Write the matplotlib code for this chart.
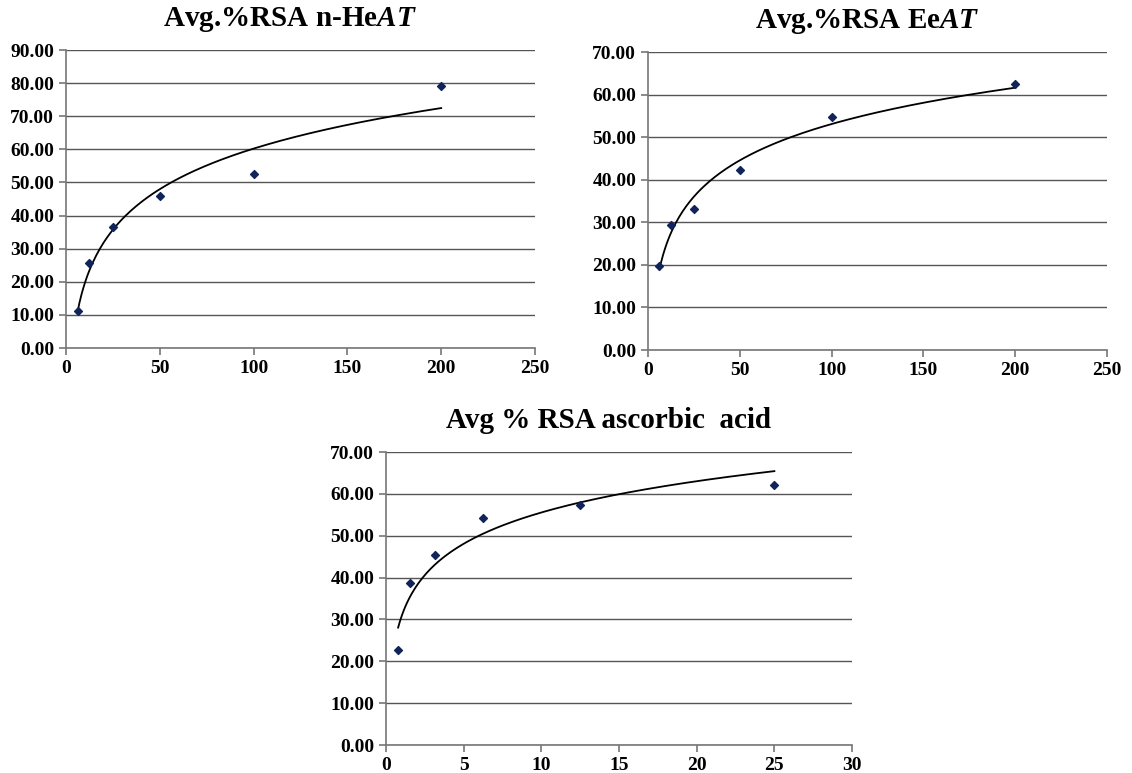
import numpy as np
import matplotlib
matplotlib.use('Agg')
import matplotlib.pyplot as plt

plt.rcParams['font.family'] = 'Liberation Serif'
plt.rcParams['font.weight'] = 'bold'
plt.rcParams['mathtext.fontset'] = 'custom'
plt.rcParams['mathtext.it'] = 'Liberation Serif:bold:italic'
plt.rcParams['mathtext.rm'] = 'Liberation Serif:bold'

# Data
conc_extract = [6.25, 12.5, 25, 50, 100, 200]
rsa_heat = [11.3, 25.8, 36.4, 45.9, 52.7, 79.0]
rsa_eeat = [19.7, 29.4, 33.2, 42.2, 54.8, 62.4]

conc_ascorbic = [0.78, 1.56, 3.125, 6.25, 12.5, 25]
rsa_ascorbic = [22.8, 38.7, 45.3, 54.2, 57.3, 62.2]

titles = [r'Avg.%RSA n-He$\mathit{AT}$', r'Avg.%RSA Ee$\mathit{AT}$', 'Avg % RSA ascorbic  acid']

fig = plt.figure(figsize=(11.32, 7.73), dpi=100)
ax1 = fig.add_axes([0.0583, 0.5498, 0.4143, 0.3855])
ax2 = fig.add_axes([0.5724, 0.5472, 0.4055, 0.3855])
ax3 = fig.add_axes([0.341, 0.0362, 0.4117, 0.379])


def draw(ax, x, y, title, xmax, xstep, ymax):
    x = np.array(x)
    y = np.array(y)
    # logarithmic trendline, like Excel
    a, b = np.polyfit(np.log(x), y, 1)
    xs = np.linspace(x.min(), x.max(), 200)
    ax.plot(xs, a * np.log(xs) + b, color='black', lw=1.3, zorder=3)
    ax.scatter(x, y, marker='D', s=16, color='#10245a', zorder=4)
    ax.set_xlim(0, xmax)
    ax.set_ylim(0, ymax)
    ax.set_xticks(np.arange(0, xmax + 0.1, xstep))
    ax.set_yticks(np.arange(0, ymax + 0.1, 10))
    ax.set_yticklabels(['%.2f' % v for v in np.arange(0, ymax + 0.1, 10)])
    ax.yaxis.grid(True, color='#555555', lw=1.0)
    ax.set_axisbelow(True)
    for s in ['top', 'right']:
        ax.spines[s].set_visible(False)
    for s in ['left', 'bottom']:
        ax.spines[s].set_color('#777777')
        ax.spines[s].set_linewidth(1.2)
    ax.tick_params(axis='both', labelsize=14, color='#777777', length=5, width=1.2)
    for lab in ax.get_xticklabels() + ax.get_yticklabels():
        lab.set_fontweight('bold')
    ax.set_title(title, fontsize=21, fontweight='bold', pad=17, x=0.955 * 0.5 + 0.0)


draw(ax1, conc_extract, rsa_heat, titles[0], 250, 50, 90)
draw(ax2, conc_extract, rsa_eeat, titles[1], 250, 50, 70)
draw(ax3, conc_ascorbic, rsa_ascorbic, titles[2], 30, 5, 70)

fig.savefig('out.png', dpi=100)
